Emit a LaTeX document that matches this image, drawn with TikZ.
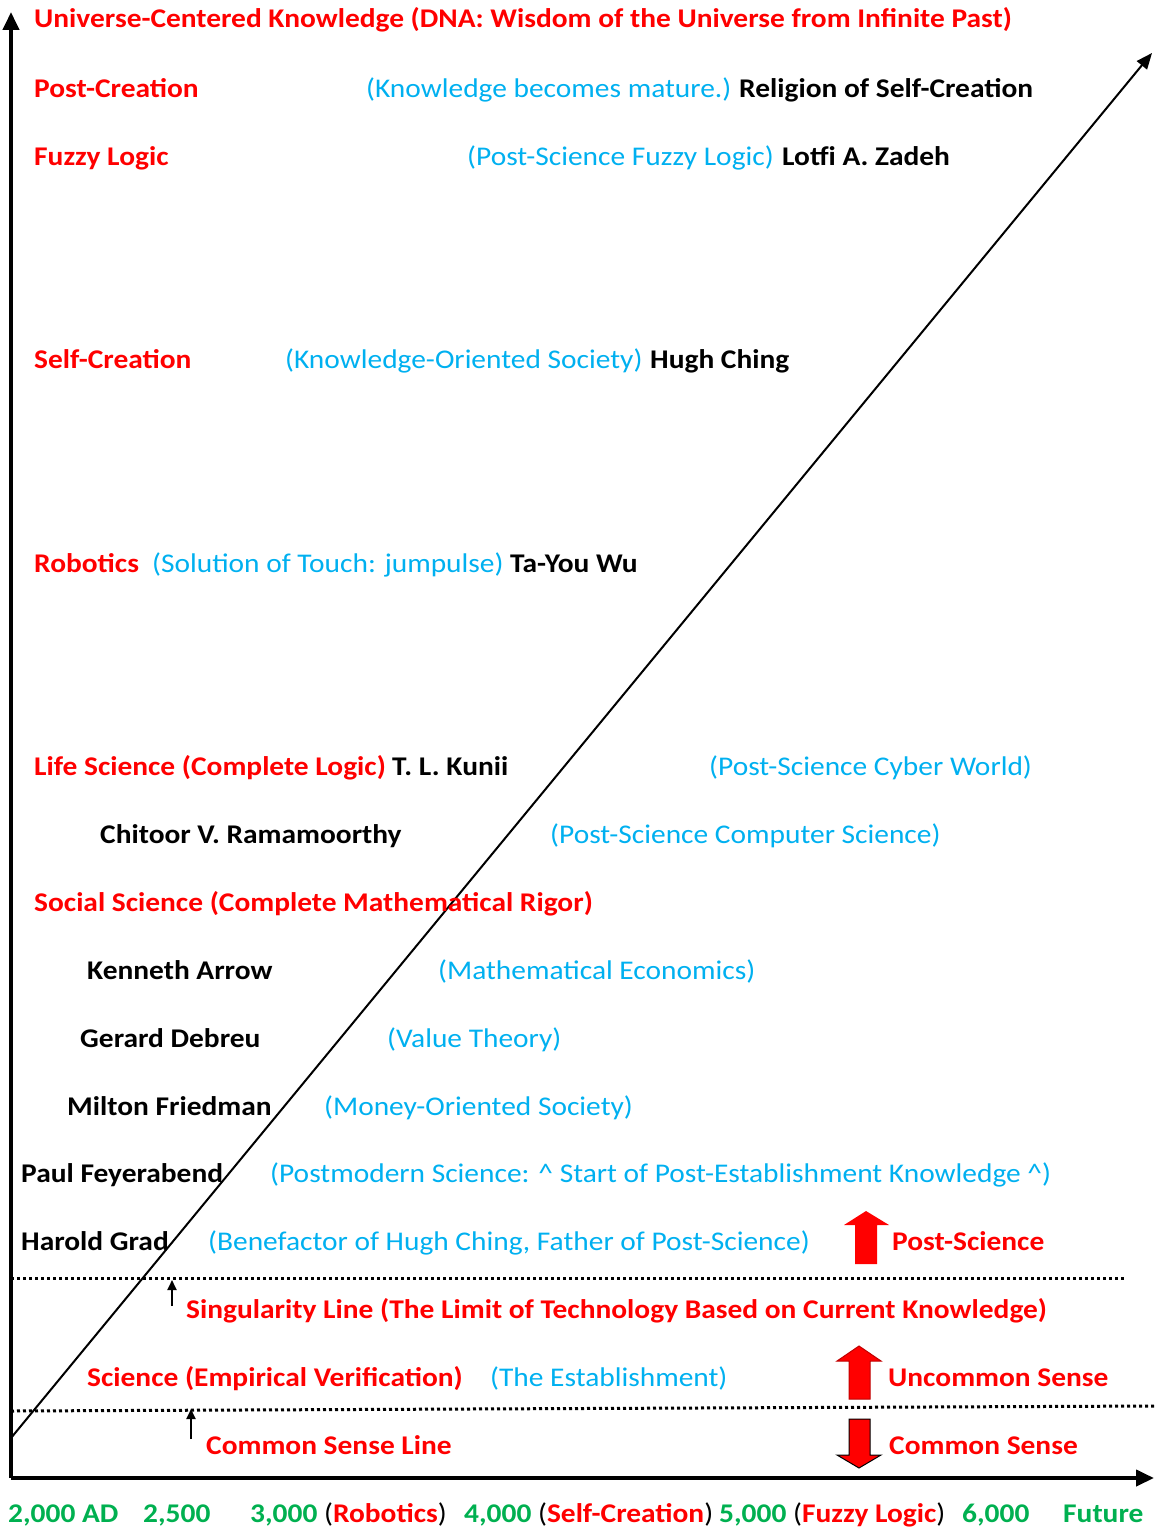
\documentclass[tikz,border=0pt]{standalone}
\usepackage{fontspec}
\setmainfont{Carlito}[FakeStretch=1.09]
\usetikzlibrary{arrows.meta}
\definecolor{cblue}{HTML}{00B0F0}
\definecolor{cgreen}{HTML}{00B050}
\definecolor{cred}{HTML}{FF0000}
\definecolor{dred}{HTML}{C00000}
\tikzset{
  txt/.style={inner sep=0pt, anchor=base west, font=\fontsize{27}{32}\selectfont\bfseries},
  rd/.style={txt, text=cred},
  bl/.style={txt, text=cblue, font=\fontsize{27}{32}\selectfont\mdseries},
  bk/.style={txt, text=black},
  gr/.style={txt, text=cgreen},
  axis/.style={line width=4pt, -{Triangle[length=18pt,width=16pt]}},
  diag/.style={line width=2pt, -{Triangle[length=16pt,width=13pt]}},
  dotline/.style={line width=3pt, dash pattern=on 3pt off 3pt},
  smallarr/.style={line width=1.8pt, -{Triangle[length=10pt,width=9pt]}},
  blockarr/.style={fill=cred, line width=1pt}
}
\begin{document}
\begin{tikzpicture}[x=1pt,y=-1pt]
\useasboundingbox (0,0) rectangle (1154,1528);
% axes
\coordinate (O) at (11,1478);
\coordinate (Ytop) at (11,12);
\coordinate (Xend) at (1154,1478);
\coordinate (D0) at (11,1438);
\coordinate (D1) at (1152,53);
\draw[axis] (O) -- (Ytop);
\draw[axis] (O) -- (Xend);
\draw[diag] (D0) -- (D1);
% dotted lines
\coordinate (S0) at (11,1278);
\coordinate (S1) at (1125,1278);
\coordinate (C0) at (11,1411);
\coordinate (C1) at (1154,1406);
\draw[dotline] (S0) -- (S1);
\draw[dotline] (C0) -- (C1);
% small arrows
\coordinate (sa0) at (172,1306);
\coordinate (sa1) at (172,1280);
\coordinate (ca0) at (191,1439);
\coordinate (ca1) at (191,1409);
\draw[smallarr] (sa0) -- (sa1);
\draw[smallarr] (ca0) -- (ca1);
% block arrows
\fill[cred] (855,1264) -- (877,1264) -- (877,1225) -- (889,1225) -- (866,1211) -- (844,1225) -- (855,1225) -- cycle;
\draw[blockarr, draw=dred] (849,1399) -- (870,1399) -- (870,1361) -- (881,1361) -- (859,1346) -- (837,1361) -- (849,1361) -- cycle;
\draw[blockarr, draw=black] (849,1419) -- (870,1419) -- (870,1455) -- (881,1455) -- (859,1468) -- (837,1455) -- (849,1455) -- cycle;
% texts
\node[rd] (t1) at (34,28) {Universe-Centered Knowledge (DNA: Wisdom of the Universe from Infinite Past)};
\node[rd] (t2a) at (34,97) {Post-Creation};
\node[bl] (t2b) at (366,97) {(Knowledge becomes mature.)};
\node[bk] (t2c) at (739,97) {Religion of Self-Creation};
\node[rd] (t3a) at (34,165) {Fuzzy Logic};
\node[bl] (t3b) at (467,165) {(Post-Science Fuzzy Logic)};
\node[bk] (t3c) at (782,165) {Lotfi A. Zadeh};
\node[rd] (t4a) at (34,368) {Self-Creation};
\node[bl] (t4b) at (285,368) {(Knowledge-Oriented Society)};
\node[bk] (t4c) at (650,368) {Hugh Ching};
\node[rd] (t5a) at (34,572) {Robotics};
\node[bl] (t5b) at (152,572) {(Solution of Touch: jumpulse)};
\node[bk] (t5c) at (510,572) {Ta-You Wu};
\node[rd] (t6a) at (34,775) {Life Science (Complete Logic)};
\node[bk] (t6b) at (392,775) {T. L. Kunii};
\node[bl] (t6c) at (709,775) {(Post-Science Cyber World)};
\node[bk] (t7a) at (100,843) {Chitoor V. Ramamoorthy};
\node[bl] (t7b) at (550,843) {(Post-Science Computer Science)};
\node[rd] (t8) at (34,911) {Social Science (Complete Mathematical Rigor)};
\node[bk] (t9a) at (87,979) {Kenneth Arrow};
\node[bl] (t9b) at (438,979) {(Mathematical Economics)};
\node[bk] (t10a) at (80,1047) {Gerard Debreu};
\node[bl] (t10b) at (387,1047) {(Value Theory)};
\node[bk] (t11a) at (67,1115) {Milton Friedman};
\node[bl] (t11b) at (324,1115) {(Money-Oriented Society)};
\node[bk] (t12a) at (21,1182) {Paul Feyerabend};
\node[bl] (t12b) at (270,1182) {(Postmodern Science: \^{} Start of Post-Establishment Knowledge \^{})};
\node[bk] (t13a) at (21,1250) {Harold Grad};
\node[bl] (t13b) at (208,1250) {(Benefactor of Hugh Ching, Father of Post-Science)};
\node[rd] (t13c) at (892,1250) {Post-Science};
\node[rd] (t14) at (186,1318) {Singularity Line (The Limit of Technology Based on Current Knowledge)};
\node[rd] (t15a) at (87,1386) {Science (Empirical Verification)};
\node[bl] (t15b) at (490,1386) {(The Establishment)};
\node[rd] (t15c) at (888,1386) {Uncommon Sense};
\node[rd] (t16a) at (206,1454) {Common Sense Line};
\node[rd] (t16b) at (889,1454) {Common Sense};
% bottom axis labels
\node[gr] (x1) at (8,1522) {2,000 AD};
\node[gr] (x2) at (143,1522) {2,500};
\node[gr] (x3) at (250,1522) {3,000 {\mdseries\color{black}(}{\color{cred}Robotics}{\mdseries\color{black})}};
\node[gr] (x4) at (464,1522) {4,000 {\mdseries\color{black}(}{\color{cred}Self-Creation}{\mdseries\color{black})}};
\node[gr] (x5) at (719,1522) {5,000 {\mdseries\color{black}(}{\color{cred}Fuzzy Logic}{\mdseries\color{black})}};
\node[gr] (x6) at (962,1522) {6,000};
\node[gr] (x7) at (1063,1522) {Future};
\end{tikzpicture}
\end{document}
